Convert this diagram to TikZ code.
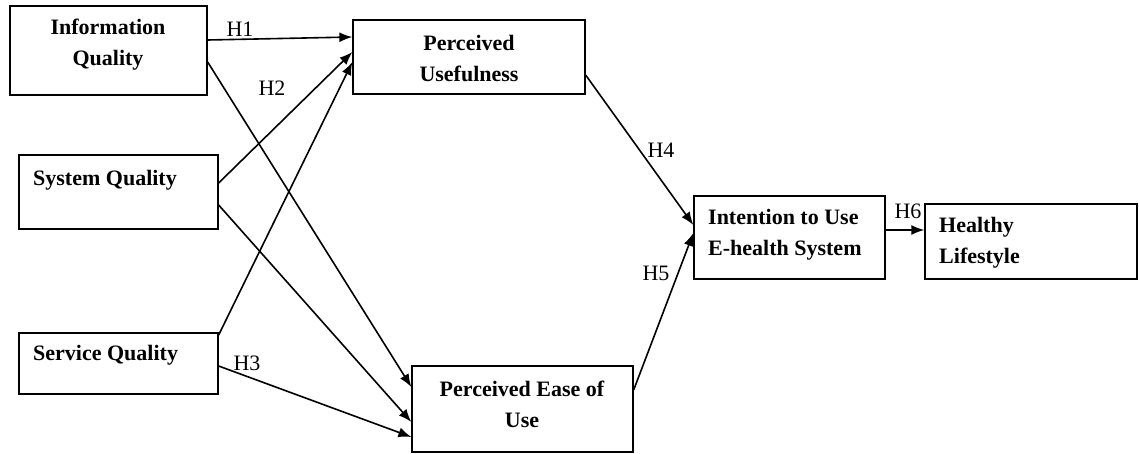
\documentclass[tikz,border=0pt]{standalone}
\usepackage{fontspec}
\setmainfont{Liberation Serif}
\usetikzlibrary{arrows.meta}
\begin{document}
\begin{tikzpicture}[x=1pt,y=-1pt,
  box/.style={draw,line width=1.3pt,rectangle,inner sep=0pt},
  txt/.style={font=\fontsize{22}{31}\selectfont\bfseries,align=center,inner sep=0pt},
  ltxt/.style={font=\fontsize{22}{31}\selectfont\bfseries,align=left,inner sep=0pt,anchor=west},
  hlab/.style={font=\fontsize{22}{24}\selectfont,inner sep=0pt},
  arr/.style={line width=1.6pt,-{Latex[length=13pt,width=10pt]}}]
\useasboundingbox (0,0) rectangle (1140,453);
% boxes
\node[box,minimum width=197pt,minimum height=89pt] (iq) at (108.5,50.5) {};
\node[box,minimum width=232pt,minimum height=74pt] (pu) at (469,57) {};
\node[box,minimum width=199pt,minimum height=74pt] (sq) at (118.5,192) {};
\node[box,minimum width=199pt,minimum height=61pt] (svq) at (118.5,363.5) {};
\node[box,minimum width=221pt,minimum height=86pt] (peou) at (522.5,409) {};
\node[box,minimum width=191pt,minimum height=83pt] (it) at (789.5,237.5) {};
\node[box,minimum width=212pt,minimum height=75pt] (hl) at (1031,241.5) {};
% texts
\node[txt] (tiq) at (108,45) {Information\\Quality};
\node[txt] (tpu) at (469,58) {Perceived\\Usefulness};
\node[ltxt] (tsq) at (33,180) {System Quality};
\node[ltxt] (tsvq) at (33,355) {Service Quality};
\node[txt] (tpeou) at (522,404) {Perceived Ease of\\Use};
\node[ltxt] (tit) at (708,235) {Intention to Use\\E-health System};
\node[ltxt] (thl) at (939,243) {Healthy\\Lifestyle};
% arrows
\draw[arr] (iq.east |- 0,40) -- (pu.west |- 0,37);
\draw[arr] (iq.east |- 0,62) -- (peou.west |- 0,387);
\draw[arr] (sq.east |- 0,183) -- (pu.west |- 0,52);
\draw[arr] (sq.east |- 0,205) -- (peou.west |- 0,422);
\draw[arr] (svq.east |- 0,335) -- (pu.west |- 0,62);
\draw[arr] (svq.east |- 0,366) -- (peou.west |- 0,437);
\draw[arr] (pu.east |- 0,75) -- (it.west |- 0,225);
\draw[arr] (peou.east |- 0,390) -- (it.west |- 0,233);
\draw[arr] (it.east |- 0,230) -- (hl.west |- 0,230);
% labels
\node[hlab] (h1) at (240,29) {H1};
\node[hlab] (h2) at (272,88) {H2};
\node[hlab] (h3) at (247,363) {H3};
\node[hlab] (h4) at (661,150) {H4};
\node[hlab] (h5) at (656,273) {H5};
\node[hlab] (h6) at (908,211) {H6};
\end{tikzpicture}
\end{document}
